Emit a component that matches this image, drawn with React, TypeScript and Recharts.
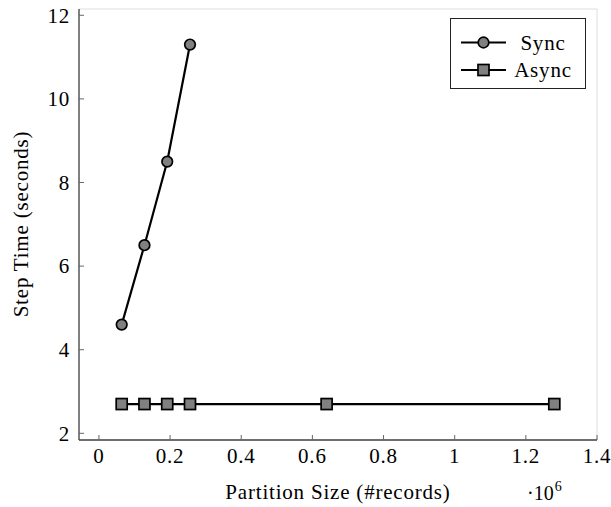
import React from 'react'
import {
  CartesianGrid,
  Legend,
  Line,
  LineChart,
  XAxis,
  YAxis,
} from 'recharts'

// partition size in millions of records
const partitionSizes = [0.064, 0.128, 0.192, 0.256, 0.64, 1.28]
const syncSizes = [0.064, 0.128, 0.192, 0.256]
const syncSeconds = [4.6, 6.5, 8.5, 11.3]
const asyncSeconds = [2.7, 2.7, 2.7, 2.7, 2.7, 2.7]

const xTicks = [0, 0.2, 0.4, 0.6, 0.8, 1, 1.2, 1.4]
const yTicks = [2, 4, 6, 8, 10, 12]

const syncData = syncSizes.map((x, i) => ({ x, y: syncSeconds[i] }))
const asyncData = partitionSizes.map((x, i) => ({ x, y: asyncSeconds[i] }))

const FONT = '"Liberation Serif", "DejaVu Serif", serif'
const FONT_SIZE = 21
const SPACING = 0.8
const MARKER_FILL = '#808080'
const TICK_COLOR = '#666'
const TICK_LEN = 5
const LABEL_GAP = 9

function fmt(v: number): string {
  return String(Math.round(v * 10) / 10)
}

function BottomTick(props: any) {
  const { x, y, payload } = props
  const axisY = y - LABEL_GAP
  return (
    <g>
      <line x1={x} x2={x} y1={axisY} y2={axisY - TICK_LEN} stroke={TICK_COLOR} />
      <text
        x={x}
        y={y}
        dy="0.68em"
        textAnchor="middle"
        fontFamily={FONT}
        fontSize={FONT_SIZE}
        letterSpacing={SPACING}
        fill="#000"
      >
        {fmt(payload.value)}
      </text>
    </g>
  )
}

function TopTick(props: any) {
  const { x, y } = props
  return <line x1={x} x2={x} y1={y} y2={y + TICK_LEN} stroke={TICK_COLOR} />
}

function LeftTick(props: any) {
  const { x, y, payload } = props
  const axisX = x + LABEL_GAP
  return (
    <g>
      <line x1={axisX} x2={axisX + TICK_LEN} y1={y} y2={y} stroke={TICK_COLOR} />
      <text
        x={x}
        y={y}
        dy="0.35em"
        textAnchor="end"
        fontFamily={FONT}
        fontSize={FONT_SIZE}
        letterSpacing={SPACING}
        fill="#000"
      >
        {fmt(payload.value)}
      </text>
    </g>
  )
}

function RightTick(props: any) {
  const { x, y } = props
  return <line x1={x} x2={x - TICK_LEN} y1={y} y2={y} stroke={TICK_COLOR} />
}

function SquareDot(props: any) {
  const { cx, cy } = props
  if (cx == null || cy == null) return null
  return (
    <rect
      x={cx - 5.5}
      y={cy - 5.5}
      width={11}
      height={11}
      fill={MARKER_FILL}
      stroke="#000"
      strokeWidth={1.7}
    />
  )
}

function LegendBox() {
  const rows = [
    { name: 'Sync', shape: 'circle' },
    { name: 'Async', shape: 'square' },
  ]
  return (
    <div
      style={{
        width: 134,
        height: 69,
        border: '1px solid #222',
        background: '#fff',
        boxSizing: 'content-box',
      }}
    >
      <svg width={134} height={69} style={{ display: 'block' }}>
        {rows.map((r, i) => {
          const cy = 23.5 + i * 27.5
          return (
            <g key={r.name}>
              <line x1={10} x2={55} y1={cy} y2={cy} stroke="#000" strokeWidth={2} />
              {r.shape === 'circle' ? (
                <circle cx={32.5} cy={cy} r={5.3} fill={MARKER_FILL} stroke="#000" strokeWidth={1.7} />
              ) : (
                <rect x={27} y={cy - 5.5} width={11} height={11} fill={MARKER_FILL} stroke="#000" strokeWidth={1.7} />
              )}
              <text
                x={92}
                y={cy}
                dy="0.35em"
                textAnchor="middle"
                fontFamily={FONT}
                fontSize={FONT_SIZE}
                letterSpacing={SPACING}
                fill="#000"
              >
                {r.name}
              </text>
            </g>
          )
        })}
      </svg>
    </div>
  )
}

const textStyle: React.CSSProperties = {
  position: 'absolute',
  fontFamily: FONT,
  fontSize: FONT_SIZE,
  letterSpacing: SPACING,
  whiteSpace: 'nowrap',
  lineHeight: 1,
}

export default function App() {
  return (
    <div
      style={{
        position: 'absolute',
        left: 0,
        top: 0,
        width: 611,
        height: 507,
        background: '#fff',
      }}
    >
      <LineChart
        width={611}
        height={507}
        margin={{ top: 9, right: 14, bottom: 37, left: 19 }}
      >
        <CartesianGrid stroke="#dedede" strokeWidth={1} />
        <XAxis
          xAxisId="bottom"
          type="number"
          dataKey="x"
          domain={[-0.056, 1.4]}
          ticks={xTicks}
          allowDataOverflow
          height={30}
          tickSize={0}
          tickMargin={LABEL_GAP}
          tick={<BottomTick />}
          axisLine={{ stroke: '#444', strokeWidth: 1.3 }}
        />
        <XAxis
          xAxisId="top"
          orientation="top"
          type="number"
          dataKey="x"
          domain={[-0.056, 1.4]}
          ticks={xTicks}
          allowDataOverflow
          height={0}
          tickSize={0}
          tickMargin={0}
          tick={<TopTick />}
          axisLine={{ stroke: '#111', strokeWidth: 1.3 }}
        />
        <YAxis
          yAxisId="left"
          type="number"
          domain={[1.84, 12.15]}
          ticks={yTicks}
          allowDataOverflow
          width={60}
          tickSize={0}
          tickMargin={LABEL_GAP}
          tick={<LeftTick />}
          axisLine={{ stroke: '#444', strokeWidth: 1.3 }}
        />
        <YAxis
          yAxisId="right"
          orientation="right"
          type="number"
          domain={[1.84, 12.15]}
          ticks={yTicks}
          allowDataOverflow
          width={0}
          tickSize={0}
          tickMargin={0}
          tick={<RightTick />}
          axisLine={{ stroke: '#444', strokeWidth: 1.3 }}
        />
        <Legend
          layout="vertical"
          align="center"
          verticalAlign="middle"
          wrapperStyle={{ top: 18, left: 450, width: 136, height: 71 }}
          content={() => <LegendBox />}
        />
        <Line
          xAxisId="bottom"
          yAxisId="left"
          data={asyncData}
          dataKey="y"
          name="Async"
          stroke="#000"
          strokeWidth={2.2}
          dot={<SquareDot />}
          isAnimationActive={false}
        />
        <Line
          xAxisId="bottom"
          yAxisId="left"
          data={syncData}
          dataKey="y"
          name="Sync"
          stroke="#000"
          strokeWidth={2.2}
          dot={{ r: 5.3, fill: MARKER_FILL, stroke: '#000', strokeWidth: 1.7 }}
          isAnimationActive={false}
        />
      </LineChart>
      <div
        style={{
          ...textStyle,
          left: 338,
          top: 492,
          transform: 'translate(-50%, -50%)',
        }}
      >
        Partition Size (#records)
      </div>
      <div
        style={{
          ...textStyle,
          left: 21,
          top: 224,
          transform: 'translate(-50%, -50%) rotate(-90deg)',
        }}
      >
        Step Time (seconds)
      </div>
      <svg
        width={50}
        height={32}
        style={{ position: 'absolute', left: 525, top: 474 }}
      >
        <text x={2} y={26} fontFamily={FONT} fontSize={20} fill="#000">
          ·10
          <tspan dx={1} dy={-9} fontSize={14}>
            6
          </tspan>
        </text>
      </svg>
    </div>
  )
}
